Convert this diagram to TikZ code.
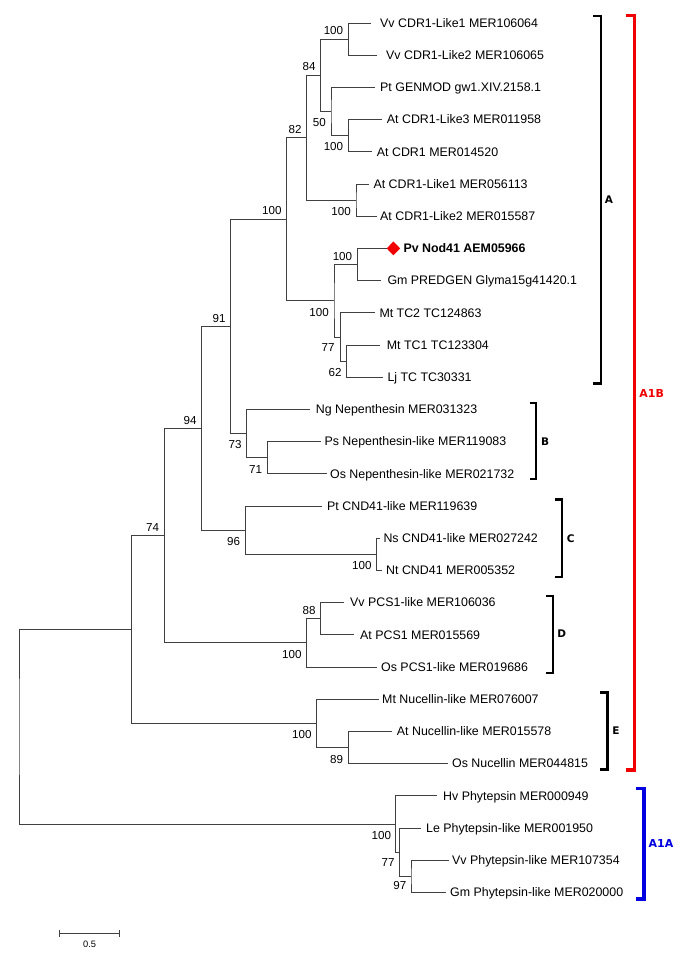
\documentclass[tikz,border=0pt]{standalone}
\usepackage{fontspec}
\setmainfont{Liberation Sans}
\newfontfamily\grpfont{DejaVu Sans}
\usetikzlibrary{shapes.geometric}
\definecolor{grpred}{RGB}{240,0,0}
\definecolor{grpblue}{RGB}{0,0,225}
\newcommand{\myleaf}[5]{%
  \coordinate (#1) at (#2,#4);
  \node[leaftxt] (#1-t) at (#3,{#4+4.3}) {#5};}
\begin{document}
\begin{tikzpicture}[x=1pt,y=-1pt,
  branch/.style={draw=black!75, line width=0.9pt},
  leaftxt/.style={anchor=base west, inner sep=0pt, font=\fontsize{12.4}{14}\selectfont},
  bsabove/.style={anchor=base east, inner sep=0pt, font=\fontsize{11.6}{13}\selectfont},
  bsbelow/.style={anchor=base east, inner sep=0pt, font=\fontsize{11.6}{13}\selectfont},
  brk/.style={draw=black, line width=2.4pt, line join=miter},
  brkred/.style={draw=grpred, line width=3.2pt, line join=miter},
  brkblue/.style={draw=grpblue, line width=3.2pt, line join=miter},
  grplab/.style={inner sep=0pt, font=\grpfont\bfseries\fontsize{10.5}{12}\selectfont},
  scaletxt/.style={inner sep=0pt, font=\fontsize{9.3}{11}\selectfont}]
\useasboundingbox (0,0) rectangle (685,957);
% leaves
\myleaf{L1}{370.7}{380}{23}{Vv CDR1-Like1 MER106064}
\myleaf{L2}{377.3}{386}{55.2}{Vv CDR1-Like2 MER106065}
\myleaf{L3}{375}{380}{87.4}{Pt GENMOD gw1.XIV.2158.1}
\myleaf{L4}{381.7}{386.7}{119.6}{At CDR1-Like3 MER011958}
\myleaf{L5}{372.3}{376.7}{151.8}{At CDR1 MER014520}
\myleaf{L6}{369}{373.3}{184}{At CDR1-Like1 MER056113}
\myleaf{L7}{376.7}{380}{216.2}{At CDR1-Like2 MER015587}
\myleaf{L8}{386.6}{403.3}{248.4}{\bfseries Pv Nod41 AEM05966}
\myleaf{L9}{380.7}{387.3}{280.6}{Gm PREDGEN Glyma15g41420.1}
\myleaf{L10}{375}{379.3}{312.8}{Mt TC2 TC124863}
\myleaf{L11}{380}{386.7}{345}{Mt TC1 TC123304}
\myleaf{L12}{383}{387.3}{377.2}{Lj TC TC30331}
\myleaf{L13}{310}{315.7}{409.4}{Ng Nepenthesin MER031323}
\myleaf{L14}{320.7}{324.3}{441.6}{Ps Nepenthesin-like MER119083}
\myleaf{L15}{326.7}{330}{473.8}{Os Nepenthesin-like MER021732}
\myleaf{L16}{322}{327}{506}{Pt CND41-like MER119639}
\myleaf{L17}{380}{383.3}{538.2}{Ns CND41-like MER027242}
\myleaf{L18}{381.7}{386}{570.4}{Nt CND41 MER005352}
\myleaf{L19}{344}{350}{602.6}{Vv PCS1-like MER106036}
\myleaf{L20}{354}{360}{634.8}{At PCS1 MER015569}
\myleaf{L21}{376.7}{381}{667}{Os PCS1-like MER019686}
\myleaf{L22}{378.5}{382}{699.2}{Mt Nucellin-like MER076007}
\myleaf{L23}{391.7}{396.7}{731.4}{At Nucellin-like MER015578}
\myleaf{L24}{448}{452}{763.6}{Os Nucellin MER044815}
\myleaf{L25}{437}{443}{795.8}{Hv Phytepsin MER000949}
\myleaf{L26}{421}{426}{828}{Le Phytepsin-like MER001950}
\myleaf{L27}{448.5}{452}{860.2}{Vv Phytepsin-like MER107354}
\myleaf{L28}{446}{450}{892.4}{Gm Phytepsin-like MER020000}
% marker
\node[diamond, aspect=1, fill=grpred, inner sep=0pt, minimum width=13.6pt, minimum height=14pt] (dia) at (393.4,248.4) {};
% internal nodes
\coordinate (nVv) at (348.3,39.1);
\coordinate (nAt) at (348.3,135.7);
\coordinate (n50) at (331,111.55);
\coordinate (n84) at (320.7,75.3);
\coordinate (nAtL) at (356,200.1);
\coordinate (n82) at (306.7,137.7);
\coordinate (nPvGm) at (357.3,264.5);
\coordinate (n62) at (346.7,361.1);
\coordinate (n77) at (340.7,336.95);
\coordinate (nPv) at (334,300.7);
\coordinate (nA) at (286.7,219.2);
\coordinate (n71) at (267.3,457.7);
\coordinate (n73) at (246.7,433.55);
\coordinate (n91) at (230.7,326.4);
\coordinate (nNs) at (376.7,554.3);
\coordinate (n96) at (245.7,530.15);
\coordinate (n94) at (201.7,428.3);
\coordinate (n88) at (320.7,618.7);
\coordinate (nPCS) at (306.7,642.85);
\coordinate (n74) at (164.3,535.6);
\coordinate (n89) at (348.3,747.5);
\coordinate (nNuc) at (316.7,723.35);
\coordinate (nA1B) at (131.7,629.5);
\coordinate (n97) at (411,876.3);
\coordinate (n77b) at (399.3,852.15);
\coordinate (nPhy) at (395.7,824);
\coordinate (root) at (19,726.7);
% branches
\draw[branch] (L1) -| (nVv) |- (L2);
\draw[branch] (L4) -| (nAt) |- (L5);
\draw[branch] (L3) -| (n50) |- (nAt);
\draw[branch] (nVv) -| (n84) |- (n50);
\draw[branch] (L6) -| (nAtL) |- (L7);
\draw[branch] (n84) -| (n82) |- (nAtL);
\draw[branch] (L8) -| (nPvGm) |- (L9);
\draw[branch] (L11) -| (n62) |- (L12);
\draw[branch] (L10) -| (n77) |- (n62);
\draw[branch] (nPvGm) -| (nPv) |- (n77);
\draw[branch] (n82) -| (nA) |- (nPv);
\draw[branch] (L14) -| (n71) |- (L15);
\draw[branch] (L13) -| (n73) |- (n71);
\draw[branch] (nA) -| (n91) |- (n73);
\draw[branch] (L17) -| (nNs) |- (L18);
\draw[branch] (L16) -| (n96) |- (nNs);
\draw[branch] (n91) -| (n94) |- (n96);
\draw[branch] (L19) -| (n88) |- (L20);
\draw[branch] (n88) -| (nPCS) |- (L21);
\draw[branch] (n94) -| (n74) |- (nPCS);
\draw[branch] (L23) -| (n89) |- (L24);
\draw[branch] (L22) -| (nNuc) |- (n89);
\draw[branch] (n74) -| (nA1B) |- (nNuc);
\draw[branch] (L27) -| (n97) |- (L28);
\draw[branch] (L26) -| (n77b) |- (n97);
\draw[branch] (L25) -| (nPhy) |- (n77b);
\draw[branch] (nA1B) -| (root) |- (nPhy);
% bootstrap values
\node[bsabove] (bVv) at ([xshift=-5pt,yshift=4.3pt]nVv) {100};
\node[bsabove] (b84) at ([xshift=-5pt,yshift=4.3pt]n84) {84};
\node[bsabove] (b82) at ([xshift=-5pt,yshift=4.3pt]n82) {82};
\node[bsabove] (bA) at ([xshift=-5pt,yshift=4.3pt]nA) {100};
\node[bsabove] (bPvGm) at ([xshift=-5pt,yshift=4.3pt]nPvGm) {100};
\node[bsabove] (b91) at ([xshift=-5pt,yshift=4.3pt]n91) {91};
\node[bsabove] (b94) at ([xshift=-5pt,yshift=4.3pt]n94) {94};
\node[bsabove] (b74) at ([xshift=-5pt,yshift=4.3pt]n74) {74};
\node[bsabove] (b88) at ([xshift=-5pt,yshift=4.3pt]n88) {88};
\node[bsbelow] (b50) at ([xshift=-5pt,yshift=-15.3pt]n50) {50};
\node[bsbelow] (bAt) at ([xshift=-5pt,yshift=-15.3pt]nAt) {100};
\node[bsbelow] (bAtL) at ([xshift=-5pt,yshift=-15.3pt]nAtL) {100};
\node[bsbelow] (bPv) at ([xshift=-5pt,yshift=-15.3pt]nPv) {100};
\node[bsbelow] (b77) at ([xshift=-6pt,yshift=-14.5pt]n77) {77};
\node[bsbelow] (b62) at ([xshift=-5pt,yshift=-15pt]n62) {62};
\node[bsbelow] (b73) at ([xshift=-5pt,yshift=-15.3pt]n73) {73};
\node[bsbelow] (b71) at ([xshift=-5pt,yshift=-15.3pt]n71) {71};
\node[bsbelow] (b96) at ([xshift=-5.5pt,yshift=-15.3pt]n96) {96};
\node[bsbelow] (bNs) at ([xshift=-5pt,yshift=-15pt]nNs) {100};
\node[bsbelow] (bPCS) at ([xshift=-5pt,yshift=-15.3pt]nPCS) {100};
\node[bsbelow] (bNuc) at ([xshift=-5pt,yshift=-15.3pt]nNuc) {100};
\node[bsbelow] (b89) at ([xshift=-5pt,yshift=-15.5pt]n89) {89};
\node[bsbelow] (bPhy) at ([xshift=-4.5pt,yshift=-15.2pt]nPhy) {100};
\node[bsbelow] (b77b) at ([xshift=-4.5pt,yshift=-14.7pt]n77b) {77};
\node[bsbelow] (b97) at ([xshift=-4.5pt,yshift=-13.6pt]n97) {97};
% group brackets
\draw[brk] (593.3,16) -- (600.7,16) -- (600.7,383.3) -- (593.3,383.3);
\node[grplab] (gA) at (609,200) {A};
\draw[brk] (529.5,402.7) -- (535.7,402.7) -- (535.7,479) -- (529.5,479);
\node[grplab] (gB) at (545,441.7) {B};
\draw[brk] (555,499.3) -- (561.7,499.3) -- (561.7,576.7) -- (555,576.7);
\node[grplab] (gC) at (570.7,538.3) {C};
\draw[brk] (546,596) -- (552.7,596) -- (552.7,672.7) -- (546,672.7);
\node[grplab] (gD) at (561.7,634) {D};
\draw[brk] (600,692.3) -- (607.3,692.3) -- (607.3,769.3) -- (600,769.3);
\node[grplab] (gE) at (616,730.7) {E};
\draw[brkred] (626,15.7) -- (634.3,15.7) -- (634.3,770) -- (626,770);
\node[grplab, text=grpred, font=\grpfont\bfseries\fontsize{11}{13}\selectfont] (gA1B) at (651.7,393.3) {A1B};
\draw[brkblue] (636,788.3) -- (644,788.3) -- (644,899) -- (636,899);
\node[grplab, text=grpblue, font=\grpfont\bfseries\fontsize{11}{13}\selectfont] (gA1A) at (661,843.3) {A1A};
% scale bar
\coordinate (sb1) at (59,933.3);
\coordinate (sb2) at (119.7,933.3);
\draw[branch] (sb1) -- (sb2);
\draw[branch] ([yshift=3.5pt]sb1) -- ([yshift=-3.5pt]sb1);
\draw[branch] ([yshift=3.5pt]sb2) -- ([yshift=-3.5pt]sb2);
\node[scaletxt] (sbt) at (89.7,944.5) {0.5};
\end{tikzpicture}
\end{document}
